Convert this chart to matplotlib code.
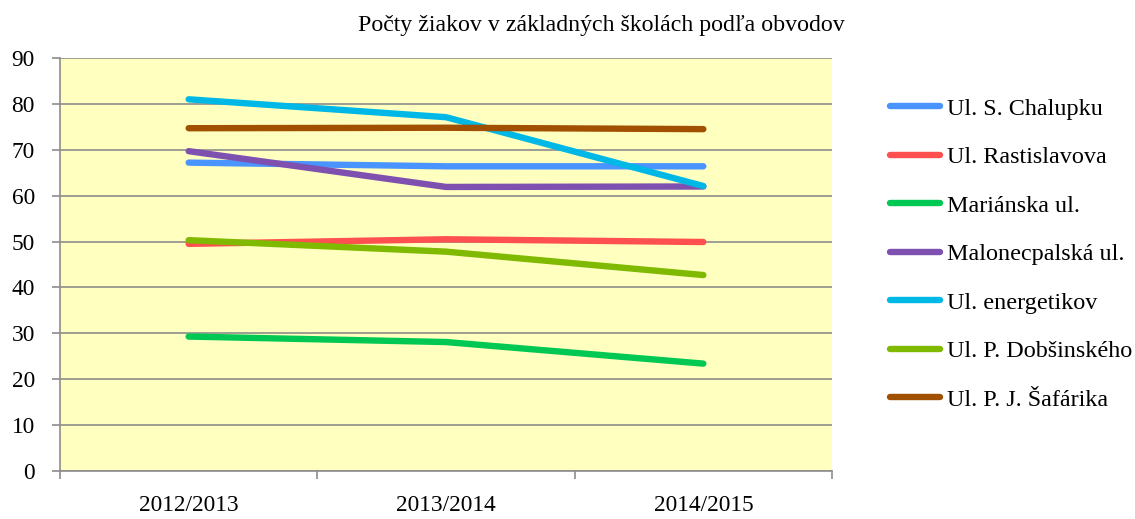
import matplotlib
matplotlib.use('Agg')
import matplotlib.pyplot as plt
import numpy as np

plt.rcParams['font.family'] = ['Liberation Serif', 'DejaVu Serif']

# školské roky
roky = ['2012/2013', '2013/2014', '2014/2015']

# počty žiakov podľa obvodov
chalupku = [67.2, 66.4, 66.4]
rastislavova = [49.5, 50.5, 49.9]
marianska = [29.3, 28.1, 23.4]
malonecpalska = [69.7, 61.9, 62.0]
energetikov = [81.0, 77.1, 62.1]
dobsinskeho = [50.3, 47.8, 42.7]
safarika = [74.7, 74.8, 74.5]

nazvy = ['Ul. S. Chalupku', 'Ul. Rastislavova', 'Mariánska ul.',
         'Malonecpalská ul.', 'Ul. energetikov', 'Ul. P. Dobšinského',
         'Ul. P. J. Šafárika']
farby = ['#4a94ff', '#ff5050', '#00c853', '#7e50b0', '#00b8e6',
         '#7fba00', '#a05000']
rady = [chalupku, rastislavova, marianska, malonecpalska, energetikov,
        dobsinskeho, safarika]

fig = plt.figure(figsize=(11.35, 5.19), dpi=100)
ax = fig.add_axes([60 / 1135, 1 - 471 / 519, 772 / 1135, 413 / 519])
ax.set_facecolor('#ffffc0')

x = np.arange(len(roky))
for hodnoty, farba, nazov in zip(rady, farby, nazvy):
    ax.plot(x, hodnoty, color=farba, lw=4.6, solid_capstyle='round',
            solid_joinstyle='round', label=nazov, zorder=3)

ax.set_xlim(-0.5, 2.5)
ax.set_ylim(0, 90)
ax.set_yticks(np.arange(0, 91, 10))
ax.yaxis.grid(True, color='#8c8c8c', lw=1.2)
ax.set_axisbelow(True)

ax.set_xticks(x)
ax.set_xticklabels(roky, fontsize=16.8)
ax.set_xticks([-0.5, 0.5, 1.5, 2.5], minor=True)
ax.tick_params(axis='x', which='major', length=0, pad=17)
ax.tick_params(axis='x', which='minor', length=6, color='#8c8c8c', width=1.2)
ax.tick_params(axis='y', length=6, color='#8c8c8c', width=1.2, labelsize=16.8, pad=12)

for s in ['top', 'right']:
    ax.spines[s].set_visible(False)
for s in ['left', 'bottom']:
    ax.spines[s].set_color('#8c8c8c')
    ax.spines[s].set_linewidth(1.2)

fig.text(601 / 1135, 1 - 25 / 519, 'Počty žiakov v základných školách podľa obvodov',
         ha='center', va='center', fontsize=17.2)

leg = ax.legend(loc='upper left', bbox_to_anchor=(880 / 1135, 1 - 88 / 519),
                bbox_transform=fig.transFigure, frameon=False, fontsize=17.4,
                handlelength=2.07, handletextpad=0.29, labelspacing=1.1,
                borderaxespad=0)
for h in leg.get_lines():
    h.set_linewidth(4.6)
    h.set_solid_capstyle('round')

fig.savefig('out.png', dpi=100)
